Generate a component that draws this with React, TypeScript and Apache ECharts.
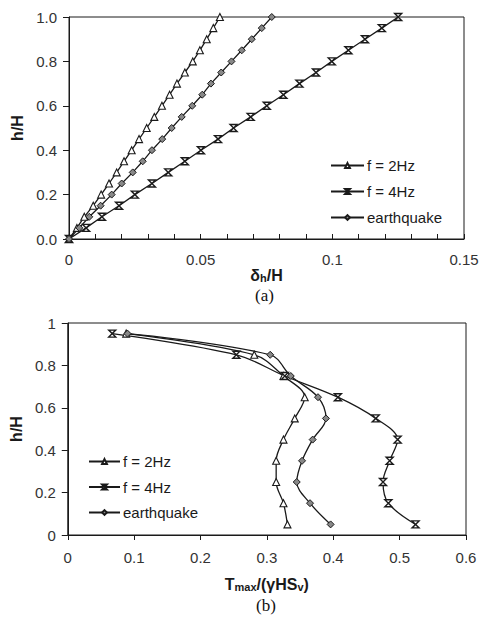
import React, { useEffect, useRef } from "react";
import * as echarts from "echarts";

// ---- Panel (a): deflection profiles ----
const hA = [0, 0.05, 0.1, 0.15, 0.2, 0.25, 0.3, 0.35, 0.4, 0.45, 0.5, 0.55, 0.6, 0.65, 0.7, 0.75, 0.8, 0.85, 0.9, 0.95, 1.0];
const dA2Hz = [0, 0.003, 0.0058, 0.0092, 0.0122, 0.0152, 0.0181, 0.0209, 0.0238, 0.0266, 0.0295, 0.0324, 0.0353, 0.0382, 0.041, 0.044, 0.047, 0.0497, 0.0523, 0.0548, 0.0573];
const dA4Hz = [0, 0.0065, 0.0125, 0.019, 0.025, 0.0315, 0.0377, 0.044, 0.0501, 0.0566, 0.0625, 0.069, 0.0751, 0.0814, 0.0875, 0.0938, 0.0998, 0.1061, 0.1124, 0.1188, 0.125];
const dAEq = [0, 0.0039, 0.0077, 0.012, 0.0162, 0.02, 0.0242, 0.028, 0.0315, 0.0354, 0.039, 0.0428, 0.0468, 0.0506, 0.0539, 0.0578, 0.0617, 0.0656, 0.0694, 0.0732, 0.077];

// ---- Panel (b): max tension profiles ----
const hB = [0.95, 0.85, 0.75, 0.65, 0.55, 0.45, 0.35, 0.25, 0.15, 0.05];
const tB2Hz = [0.088, 0.281, 0.325, 0.357, 0.342, 0.325, 0.314, 0.314, 0.325, 0.331];
const tB4Hz = [0.067, 0.254, 0.327, 0.407, 0.464, 0.497, 0.485, 0.475, 0.483, 0.524];
const tBEq = [0.09, 0.305, 0.336, 0.377, 0.389, 0.369, 0.353, 0.345, 0.365, 0.396];

const seriesNames = ["f = 2Hz", "f = 4Hz", "earthquake"];

const INK = "#1a1a1a";
const LABEL = "#333";
const SANS = "Liberation Sans, Arial, sans-serif";
const SERIF = "Liberation Serif, Times New Roman, serif";

const starPath = "path://M0,0L10,0L0,10L10,10Z";

const markerStyles = [
  { symbol: "triangle", symbolSize: 7, itemStyle: { color: "#fff", borderColor: INK, borderWidth: 1.1 } },
  { symbol: starPath, symbolSize: 7, itemStyle: { color: "#fff", borderColor: INK, borderWidth: 1.4 } },
  { symbol: "diamond", symbolSize: 7, itemStyle: { color: "#888", borderColor: INK, borderWidth: 1 } },
];

function pairs(xs: number[], ys: number[]) {
  return xs.map((x, i) => [x, ys[i]]);
}

export default function App() {
  const ref = useRef<HTMLDivElement>(null);
  useEffect(() => {
    if (!ref.current) return;
    const chart = echarts.init(ref.current, undefined, { renderer: "svg" });

    const axisLabelFont = { color: LABEL, fontFamily: SANS, fontSize: 15 };
    const nameFont = { color: INK, fontFamily: SANS, fontSize: 16, fontWeight: "bold" as const };

    const topData = [dA2Hz, dA4Hz, dAEq];
    const botData = [tB2Hz, tB4Hz, tBEq];

    const series: any[] = [];
    seriesNames.forEach((name, i) => {
      series.push({
        name,
        type: "line",
        xAxisIndex: 0,
        yAxisIndex: 0,
        data: pairs(topData[i], hA),
        lineStyle: { color: INK, width: 1.3 },
        ...markerStyles[i],
        z: 3,
      });
    });
    seriesNames.forEach((name, i) => {
      series.push({
        name,
        type: "line",
        xAxisIndex: 1,
        yAxisIndex: 1,
        data: pairs(botData[i], hB),
        smooth: 0.35,
        lineStyle: { color: INK, width: 1.3 },
        ...markerStyles[i],
        z: 3,
      });
    });

    const legendCommon = {
      orient: "vertical" as const,
      itemWidth: 33,
      itemHeight: 6,
      itemGap: 11,
      padding: 0,
      data: seriesNames,
      textStyle: { color: INK, fontFamily: SANS, fontSize: 15, padding: [0, 0, 0, -2] },
      selectedMode: false,
    };

    const richName = {
      a: { ...nameFont, lineHeight: 17 },
      s: { ...nameFont, fontSize: 11, lineHeight: 13, padding: [5, 0, 0, 0] },
    };

    chart.setOption({
      animation: false,
      backgroundColor: "#fff",
      grid: [
        { left: 69, top: 17, width: 395, height: 222, show: true, borderColor: INK, borderWidth: 1 },
        { left: 67, top: 323, width: 399, height: 212, show: true, borderColor: INK, borderWidth: 1 },
      ],
      legend: [
        { ...legendCommon, left: 330, top: 158 },
        { ...legendCommon, left: 88, top: 454, itemWidth: 31, itemGap: 10.5 },
      ],
      xAxis: [
        {
          type: "value",
          gridIndex: 0,
          min: 0,
          max: 0.15,
          interval: 0.01,
          splitLine: { show: false },
          axisLine: { lineStyle: { color: INK, width: 1 } },
          axisTick: { inside: true, length: 5, lineStyle: { color: INK } },
          axisLabel: {
            ...axisLabelFont,
            margin: 13,
            formatter: (v: number) => {
              const k = Math.round(v * 100);
              return k % 5 === 0 ? String(k / 100) : "";
            },
          },
          name: "{a|δ}{s|h}{a|/H}",
          nameLocation: "middle",
          nameGap: 25,
          nameTextStyle: { rich: richName },
        },
        {
          type: "value",
          gridIndex: 1,
          min: 0,
          max: 0.6,
          interval: 0.1,
          splitLine: { show: false },
          axisLine: { lineStyle: { color: INK, width: 1 } },
          axisTick: { inside: false, length: 5, lineStyle: { color: INK } },
          axisLabel: { ...axisLabelFont, margin: 15 },
          name: "{a|T}{s|max}{a|/(γHS}{s|v}{a|)}",
          nameLocation: "middle",
          nameGap: 41,
          nameTextStyle: { rich: richName },
        },
      ],
      yAxis: [
        {
          type: "value",
          gridIndex: 0,
          min: 0,
          max: 1,
          interval: 0.2,
          splitLine: { show: false },
          axisLine: { lineStyle: { color: INK, width: 1 } },
          axisTick: { inside: false, length: 6, lineStyle: { color: INK } },
          axisLabel: { ...axisLabelFont, margin: 12, formatter: (v: number) => v.toFixed(1) },
          name: "h/H",
          nameLocation: "middle",
          nameGap: 44,
          nameTextStyle: nameFont,
        },
        {
          type: "value",
          gridIndex: 1,
          min: 0,
          max: 1,
          interval: 0.2,
          splitLine: { show: false },
          axisLine: { lineStyle: { color: INK, width: 1 } },
          axisTick: { inside: false, length: 6, lineStyle: { color: INK } },
          axisLabel: { ...axisLabelFont, margin: 12 },
          name: "h/H",
          nameLocation: "middle",
          nameGap: 41,
          nameTextStyle: nameFont,
        },
      ],
      graphic: [
        {
          type: "text",
          left: 255,
          top: 287,
          style: { text: "(a)", fontFamily: SERIF, fontSize: 17, fill: "#111" },
        },
        {
          type: "text",
          left: 256,
          top: 597,
          style: { text: "(b)", fontFamily: SERIF, fontSize: 17, fill: "#111" },
        },
      ],
      series,
    });

    return () => chart.dispose();
  }, []);

  return (
    <div
      ref={ref}
      style={{ position: "absolute", left: 0, top: 0, width: 482, height: 619, background: "#fff" }}
    />
  );
}
